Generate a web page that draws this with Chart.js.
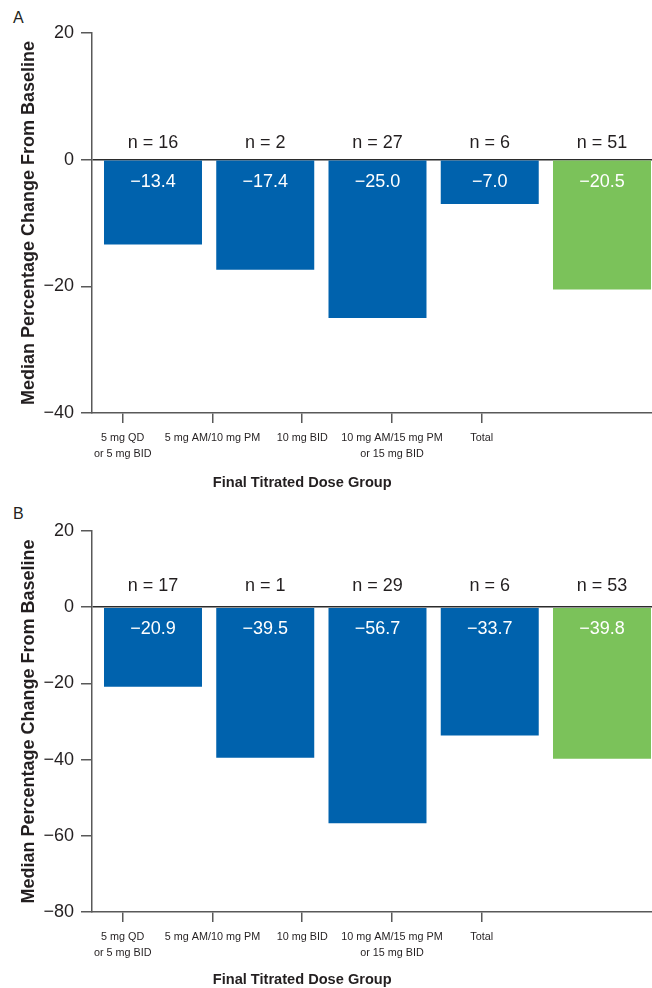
<!DOCTYPE html>
<html>
<head>
<meta charset="utf-8">
<script src="https://cdn.jsdelivr.net/npm/chart.js@4.4.0/dist/chart.umd.min.js"></script>
<style>
  body { margin: 0; background: #fff; }
  #wrap { position: relative; width: 652px; height: 988px; }
  .panel { position: absolute; left: 0; }
  .tag { position: absolute; left: 13px; font: 16px/16px "Liberation Sans", Arial, sans-serif; color: #231f20; }
</style>
</head>
<body>
<div id="wrap">
  <div class="tag" style="top:10px">A</div>
  <canvas id="chartA" class="panel" style="top:0" width="652" height="494"></canvas>
  <div class="tag" style="top:506px">B</div>
  <canvas id="chartB" class="panel" style="top:498px" width="652" height="490"></canvas>
</div>
<script>
// Dose groups (bottom axis labels)
const doseGroups = [['5 mg QD', 'or 5 mg BID'], '5 mg AM/10 mg PM', '10 mg BID', ['10 mg AM/15 mg PM', 'or 15 mg BID'], 'Total'];
const xTitle = 'Final Titrated Dose Group';
const yTitle = 'Median Percentage Change From Baseline';

// Panel A
const panelACounts = [16, 2, 27, 6, 51];
const panelAMedians = [-13.4, -17.4, -25.0, -7.0, -20.5];
const panelAYRange = [-40, 20];

// Panel B
const panelBCounts = [17, 1, 29, 6, 53];
const panelBMedians = [-20.9, -39.5, -56.7, -33.7, -39.8];
const panelBYRange = [-80, 20];

const BLUE = '#0062ad';
const GREEN = '#7bc25a';
const INK = '#231f20';
const AXIS = '#595959';
const SANS = '"Liberation Sans", Arial, sans-serif';

function fmtSigned(v) {
  return v < 0 ? '\u2212' + Math.abs(v).toFixed(1) : v.toFixed(1);
}

// n = .. above the zero line, value inside the bar, x title under the dose labels
const barLabels = {
  id: 'barLabels',
  afterDatasetsDraw(chart, args, opts) {
    const ctx = chart.ctx;
    const meta = chart.getDatasetMeta(0);
    const zero = chart.scales.y.getPixelForValue(0);
    ctx.save();
    ctx.font = '18px ' + SANS;
    ctx.textAlign = 'center';
    ctx.textBaseline = 'middle';
    meta.data.forEach((bar, i) => {
      ctx.fillStyle = INK;
      ctx.fillText('n = ' + opts.counts[i], bar.x, zero - opts.nOffset);
      ctx.fillStyle = '#fff';
      ctx.fillText(fmtSigned(opts.values[i]), bar.x, zero + 22);
    });
    // axis title is centred on the middle dose group tick, not on the plot
    const x2 = chart.scales.x2;
    ctx.fillStyle = INK;
    ctx.font = 'bold 14.6px ' + SANS;
    ctx.fillText(xTitle, x2.getPixelForValue((doseGroups.length - 1) / 2), chart.height - opts.titleBottom);
    ctx.restore();
  }
};

function makePanel(canvasId, values, counts, yRange, cfg) {
  const canvas = document.getElementById(canvasId);
  return new Chart(canvas, {
    type: 'bar',
    data: {
      datasets: [{
        data: values.map((v, i) => ({ x: i, y: v })),
        backgroundColor: values.map((v, i) => i === values.length - 1 ? GREEN : BLUE),
        borderWidth: 0,
        categoryPercentage: 1,
        barPercentage: 0.873
      }]
    },
    options: {
      responsive: false,
      animation: false,
      layout: { padding: { top: 33, left: 0, right: 0, bottom: 0 } },
      plugins: {
        legend: { display: false },
        tooltip: { enabled: false },
        barLabels: { counts: counts, values: values, nOffset: cfg.nOffset, titleBottom: cfg.titleBottom }
      },
      scales: {
        // bars sit on their own hidden axis
        x: {
          type: 'linear',
          display: false,
          offset: false,
          grid: { offset: false },
          min: -0.5434,
          max: 4.4455
        },
        // bottom axis with the dose group labels (spaced differently from the bars)
        x2: {
          type: 'linear',
          axis: 'x',
          position: 'bottom',
          offset: false,
          min: -0.342,
          max: 5.897,
          afterBuildTicks: s => { s.ticks = doseGroups.map((g, i) => ({ value: i })); },
          afterFit: s => { s.height = cfg.xAxisHeight; },
          grid: { offset: false, drawOnChartArea: false, tickLength: 10, color: AXIS, lineWidth: 1.5 },
          border: { display: true, color: AXIS, width: 1.5 },
          ticks: {
            autoSkip: false,
            maxRotation: 0,
            padding: 7,
            color: INK,
            font: { family: SANS, size: 10.8, lineHeight: 1.5 },
            callback: v => doseGroups[v]
          }
        },
        y: {
          min: yRange[0],
          max: yRange[1],
          z: 1,
          afterFit: s => { s.width = 92; },
          grid: {
            color: c => (c.tick && c.tick.value === 0) ? '#2b2b2b' : 'rgba(0,0,0,0)',
            tickColor: AXIS,
            tickLength: 11,
            lineWidth: 1.5
          },
          border: { display: true, color: AXIS, width: 1.5 },
          ticks: {
            stepSize: 20,
            padding: 7,
            color: INK,
            font: { family: SANS, size: 18 },
            callback: v => v < 0 ? '\u2212' + Math.abs(v) : String(v)
          },
          title: {
            display: true,
            text: yTitle,
            color: INK,
            font: { family: SANS, size: 18, weight: 'bold', lineHeight: 1.2 },
            padding: { top: 18, bottom: 0 }
          }
        }
      }
    },
    plugins: [barLabels]
  });
}

makePanel('chartA', panelAMedians, panelACounts, panelAYRange, { nOffset: 17, xAxisHeight: 81, titleBottom: 11 });
makePanel('chartB', panelBMedians, panelBCounts, panelBYRange, { nOffset: 21, xAxisHeight: 76, titleBottom: 8 });
</script>
</body>
</html>
